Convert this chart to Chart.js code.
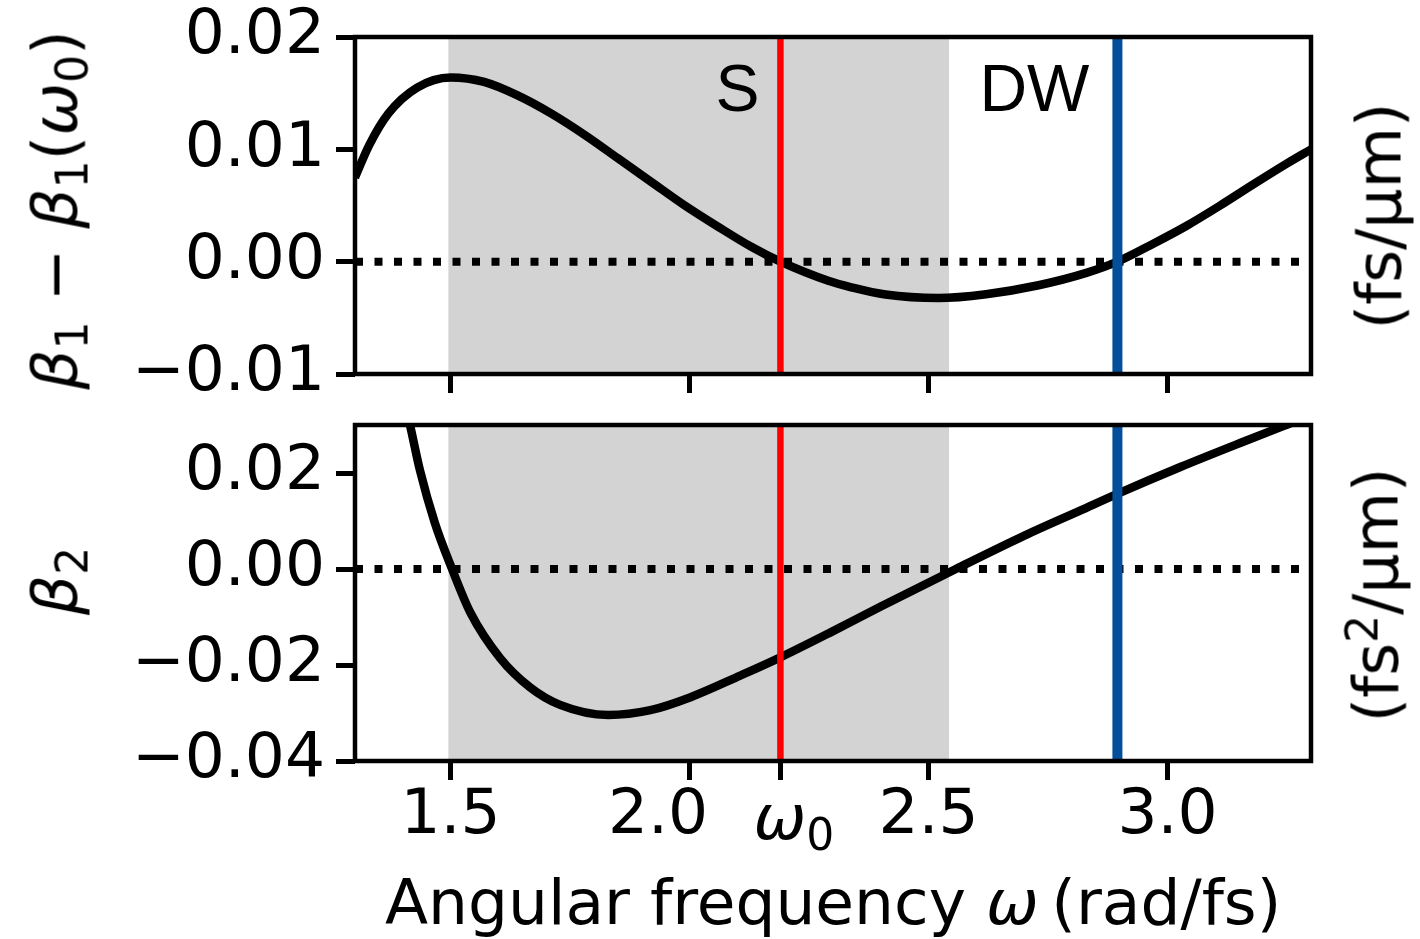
<!DOCTYPE html>
<html><head><meta charset="utf-8">
<script src="https://cdn.jsdelivr.net/npm/chart.js@4.4.0/dist/chart.umd.min.js"></script>
<style>
html,body{margin:0;padding:0;background:#fff;}
#wrap{position:relative;width:1420px;height:939px;overflow:hidden;background:#fff;}
canvas{position:absolute;left:0;top:0;}
.lbl{position:absolute;font-family:'DejaVu Sans';font-size:63px;line-height:63px;color:#000;white-space:nowrap;}
.rot{transform:translate(-50%,-50%) rotate(-90deg);}
.m{font-style:italic;}
.sub{font-size:44px;position:relative;top:11px;}
.sup{font-size:44px;position:relative;top:-20px;}
.ann{position:absolute;font-family:'Liberation Sans',Arial,sans-serif;font-size:66px;line-height:66px;color:#000;white-space:nowrap;transform:translateX(-100%);}
</style></head>
<body><div id="wrap">
<canvas id="cBot" width="1420" height="939" style="width:1420px;height:939px"></canvas>
<canvas id="cTop" width="1420" height="939" style="width:1420px;height:939px"></canvas>
<div id="ylabTop" class="lbl rot"><span class="m">β</span><span class="sub">1</span> − <span class="m">β</span><span class="sub">1</span>(<span class="m">ω</span><span class="sub">0</span>)</div>
<div id="ylabBot" class="lbl rot"><span class="m">β</span><span class="sub">2</span></div>
<div id="unitTop" class="lbl rot">(fs/μm)</div>
<div id="unitBot" class="lbl rot">(fs<span class="sup">2</span>/μm)</div>
<div id="xtitle" class="lbl">Angular frequency <span class="m">ω</span>&#8201;(rad/fs)</div>
<div id="w0lab" class="lbl"><span class="m">ω</span><span class="sub">0</span></div>
<div id="annS" class="ann">S</div>
<div id="annDW" class="ann">DW</div>
</div>
<script>
// ---------- data ----------
const X_MIN = 1.3, X_MAX = 3.3;
const omega0 = 2.19;          // soliton frequency
const omegaDW = 2.895;        // dispersive wave frequency
const shadeStart = 1.495, shadeEnd = 2.543;

const omegaTop = [1.30,1.33,1.37,1.43,1.50,1.57,1.64,1.71,1.78,1.85,1.92,1.99,2.06,2.13,2.19,2.29,2.34,2.41,2.52,2.62,2.73,2.83,2.895,2.97,3.04,3.11,3.18,3.25,3.30];
const beta1Rel = [0.0075,0.0104,0.0132,0.0155,0.0164,0.0160,0.0148,0.0132,0.0113,0.0092,0.0071,0.0050,0.0031,0.0013,0.0000,-0.0017,-0.0023,-0.00293,-0.00324,-0.0029,-0.0021,-0.0010,0.0000,0.0016,0.0032,0.0050,0.0069,0.00875,0.0100];

const omegaBot = [1.405,1.415,1.436,1.467,1.503,1.541,1.604,1.667,1.729,1.830,1.918,2.002,2.106,2.19,2.295,2.40,2.557,2.693,2.818,2.896,3.028,3.153,3.248,3.30];
const beta2 = [0.034,0.030,0.0205,0.0096,0.0,-0.0090,-0.0186,-0.0247,-0.0283,-0.0304,-0.0294,-0.0267,-0.0222,-0.0184,-0.0132,-0.0078,0.0,0.0066,0.0122,0.0157,0.0213,0.0263,0.0300,0.0320];

const yRangeTop = [-0.01, 0.02];
const yRangeBot = [-0.04, 0.03];
const yTicksTop = [-0.01, 0.00, 0.01, 0.02];
const yTicksBot = [-0.04, -0.02, 0.00, 0.02];
const xTicksTop = [1.5, 2.0, 2.5, 3.0];
const xTicksBot = [1.5, 2.0, omega0, 2.5, 3.0];
const xLabelsBot = ['1.5', '2.0\u2003', '', '2.5', '3.0'];

// ---------- helpers ----------
const FONT = {family: 'DejaVu Sans', size: 63, lineHeight: 1};
const fmtY = v => (v < -1e-9 ? '\u2212' : '') + Math.abs(v).toFixed(2);
const pts = (xs, ys) => xs.map((x, i) => ({x, y: ys[i]}));

const boxPlugin = {
  id: 'box',
  afterDatasetsDraw(chart) {
    const a = chart.chartArea, ctx = chart.ctx;
    ctx.save();
    ctx.strokeStyle = '#000';
    ctx.lineWidth = 4.5;
    ctx.strokeRect(a.left, a.top, a.right - a.left, a.bottom - a.top);
    ctx.restore();
  }
};

const noPad = s => { s.paddingTop = 0; s.paddingBottom = 0; s.paddingLeft = 0; s.paddingRight = 0; };

function makeChart(id, o) {
  const [ymin, ymax] = o.yRange;
  const datasets = [
    {data: [{x: omega0, y: ymin}, {x: omega0, y: ymax}], borderColor: '#ff0000', borderWidth: 6.5, order: 0},
    {data: [{x: omegaDW, y: ymin}, {x: omegaDW, y: ymax}], borderColor: '#034f9a', borderWidth: 10, order: 0},
    {data: [{x: X_MIN, y: 0}, {x: X_MAX, y: 0}], borderColor: '#000', borderWidth: 8, borderDash: [8, 11.5], borderCapStyle: 'butt', order: 1},
    {data: pts(o.xs, o.ys), borderColor: '#000', borderWidth: 8.5, cubicInterpolationMode: 'monotone', borderCapStyle: 'butt', borderJoinStyle: 'round', order: 2},
    {data: [{x: shadeStart, y: ymax}, {x: shadeEnd, y: ymax}], borderWidth: 0, borderColor: 'rgba(0,0,0,0)', backgroundColor: '#d3d3d3', fill: 'start', order: 3}
  ].map(d => Object.assign({pointRadius: 0, tension: 0, clip: 0}, d));

  return new Chart(document.getElementById(id), {
    type: 'line',
    data: {datasets},
    plugins: [boxPlugin],
    options: {
      responsive: false, animation: false, events: [],
      layout: {padding: {left: 0, right: 109, top: o.top, bottom: 0}, autoPadding: false},
      plugins: {legend: {display: false}, tooltip: {enabled: false}},
      scales: {
        x: {
          type: 'linear', min: X_MIN, max: X_MAX,
          afterBuildTicks: s => { s.ticks = o.xTicks.map(v => ({value: v})); },
          afterFit: s => { s.height = 939 - o.bottom; noPad(s); },
          ticks: {autoSkip: false, maxRotation: 0, minRotation: 0, padding: 5, font: FONT, color: '#000',
                  callback: (v, i) => o.xLabels ? o.xLabels[i] : ''},
          grid: {display: true, drawOnChartArea: false, drawTicks: true, tickLength: 19, tickWidth: 5, tickColor: '#000'},
          border: {display: false}
        },
        y: {
          type: 'linear', min: ymin, max: ymax,
          afterBuildTicks: s => { s.ticks = o.yTicks.map(v => ({value: v})); },
          afterFit: s => { s.width = 355; noPad(s); },
          ticks: {padding: 11, font: FONT, color: '#000', callback: v => fmtY(v)},
          grid: {display: true, drawOnChartArea: false, drawTicks: true, tickLength: 19, tickWidth: 5, tickColor: '#000'},
          border: {display: false}
        }
      }
    }
  });
}

const chartTop = makeChart('cTop', {xs: omegaTop, ys: beta1Rel, yRange: yRangeTop, yTicks: yTicksTop,
  xTicks: xTicksTop, xLabels: null, top: 37, bottom: 374});
const chartBot = makeChart('cBot', {xs: omegaBot, ys: beta2, yRange: yRangeBot, yTicks: yTicksBot,
  xTicks: xTicksBot, xLabels: xLabelsBot, top: 425, bottom: 761});

// ---------- text placement from the scales ----------
function place(id, left, top) {
  const el = document.getElementById(id);
  el.style.left = left + 'px';
  el.style.top = top + 'px';
}
const aT = chartTop.chartArea, aB = chartBot.chartArea;
const cyT = (aT.top + aT.bottom) / 2, cyB = (aB.top + aB.bottom) / 2;
const BASE = 53.3; // baseline offset inside a 63px line box
place('ylabTop', 58, cyT + 4);
place('ylabBot', 58, cyB - 12);
place('unitTop', aT.right + 68, cyT + 10);
place('unitBot', aB.right + 68, cyB + 2);
const xc = (aB.left + aB.right) / 2;
const xt = document.getElementById('xtitle');
place('xtitle', xc - xt.offsetWidth / 2, 924 - BASE);
const px0 = chartBot.scales.x.getPixelForValue(omega0);
place('w0lab', px0 - 27, aB.bottom + 78 - BASE);
place('annS', chartTop.scales.x.getPixelForValue(omega0) - 21, aT.top + 18);
place('annDW', chartTop.scales.x.getPixelForValue(omegaDW) - 28, aT.top + 18);
</script>
</body></html>
